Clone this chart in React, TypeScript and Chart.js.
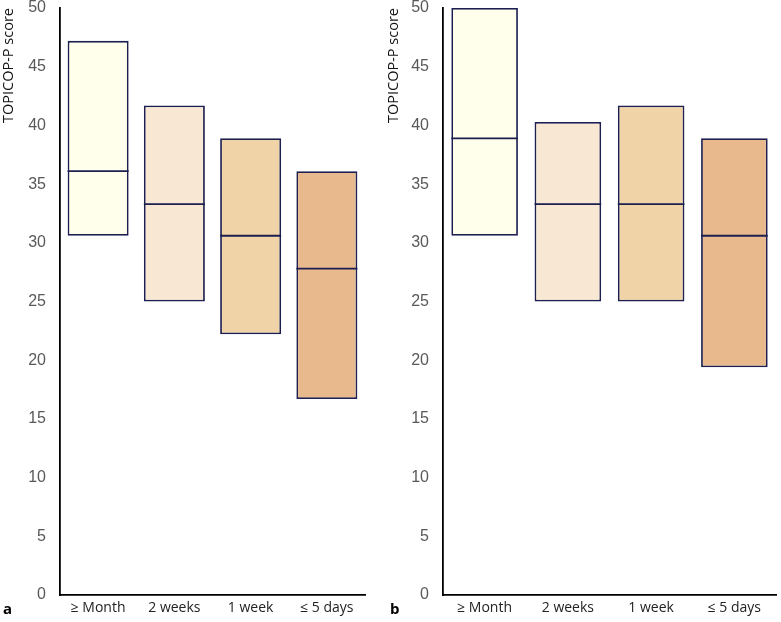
import React, { useEffect, useRef } from "react";
import { Chart, registerables } from "chart.js";

Chart.register(...registerables);

const categories = ["≥ Month", "2 weeks", "1 week", "≤ 5 days"];
const yTicks = [0, 5, 10, 15, 20, 25, 30, 35, 40, 45, 50];

// Panel a
const panelALow = [30.6, 25.0, 22.2, 16.7];
const panelAMedian = [36.1, 33.3, 30.6, 27.8];
const panelAHigh = [47.2, 41.7, 38.9, 36.1];

// Panel b
const panelBLow = [30.6, 25.0, 25.0, 19.4];
const panelBMedian = [38.9, 33.3, 33.3, 30.6];
const panelBHigh = [50.0, 40.3, 41.7, 38.9];

const boxColors = ["#FFFFEB", "#F8E8D3", "#F0D3A6", "#E8B98D"];
const edgeColor = "#1C1F4F";

type PanelProps = {
  low: number[];
  median: number[];
  high: number[];
  width: number;
  height: number;
  axisWidth: number;
  rightPad: number;
};

function Panel({ low, median, high, width, height, axisWidth, rightPad }: PanelProps) {
  const ref = useRef<HTMLCanvasElement | null>(null);
  useEffect(() => {
    if (!ref.current) return;
    const medianPlugin = {
      id: "medianLines",
      afterDatasetsDraw(chart: any) {
        const meta = chart.getDatasetMeta(0);
        const y = chart.scales.y;
        const ctx = chart.ctx;
        ctx.save();
        ctx.strokeStyle = edgeColor;
        ctx.lineWidth = 1.8;
        meta.data.forEach((bar: any, i: number) => {
          const py = y.getPixelForValue(median[i]);
          const half = bar.width / 2;
          ctx.beginPath();
          ctx.moveTo(bar.x - half, py);
          ctx.lineTo(bar.x + half, py);
          ctx.stroke();
        });
        ctx.restore();
      },
    };
    const chart = new Chart(ref.current, {
      type: "bar",
      data: {
        labels: categories,
        datasets: [
          {
            label: "box",
            data: low.map((v, i) => [v, high[i]]) as any,
            backgroundColor: boxColors,
            borderColor: edgeColor,
            borderWidth: 1.8,
            borderSkipped: false,
            barPercentage: 0.8,
            categoryPercentage: 1,
          },
        ],
      },
      plugins: [medianPlugin],
      options: {
        responsive: false,
        animation: false,
        layout: { padding: { top: 0, right: rightPad, left: 0, bottom: 0 } },
        plugins: { legend: { display: false }, tooltip: { enabled: false } },
        scales: {
          x: {
            grid: { display: false, drawTicks: false },
            border: { display: true, color: "#000", width: 1.8 },
            ticks: {
              color: "#222",
              font: { family: "Open Sans", size: 14 },
              padding: 5,
              maxRotation: 0,
            },
            afterFit: (s: any) => {
              s.height = 27;
            },
          },
          y: {
            min: 0,
            max: 50,
            afterBuildTicks: (s: any) => {
              s.ticks = yTicks.map((v) => ({ value: v }));
            },
            grid: { display: false, drawTicks: false },
            border: { display: true, color: "#000", width: 1.8 },
            ticks: {
              color: "#595959",
              font: { family: "Liberation Sans", size: 16 },
              padding: 14,
            },
            title: {
              display: true,
              text: "TOPICOP-P score",
              align: "end",
              color: "#111",
              font: { family: "Open Sans", size: 14.5 },
              padding: { top: 0, bottom: 4 },
            },
            afterFit: (s: any) => {
              s.width = axisWidth;
              s.paddingTop = 8;
              s.paddingBottom = 0;
            },
          },
        },
      },
    });
    return () => chart.destroy();
  }, []);
  return <canvas ref={ref} width={width} height={height} style={{ display: "block" }} />;
}

export default function App() {
  const labelStyle: React.CSSProperties = {
    position: "absolute",
    top: 598,
    fontFamily: "Open Sans",
    fontWeight: 700,
    fontSize: 15,
    color: "#000",
  };
  return (
    <div style={{ position: "fixed", left: 0, top: 0, width: 781, height: 622, background: "#fff" }}>
      <div style={{ position: "absolute", left: 0, top: 0 }}>
        <Panel low={panelALow} median={panelAMedian} high={panelAHigh} width={385} height={622} axisWidth={60} rightPad={20} />
      </div>
      <div style={{ position: "absolute", left: 385, top: 0 }}>
        <Panel low={panelBLow} median={panelBMedian} high={panelBHigh} width={396} height={622} axisWidth={58} rightPad={5} />
      </div>
      <div style={{ ...labelStyle, left: 3 }}>a</div>
      <div style={{ ...labelStyle, left: 390 }}>b</div>
    </div>
  );
}
